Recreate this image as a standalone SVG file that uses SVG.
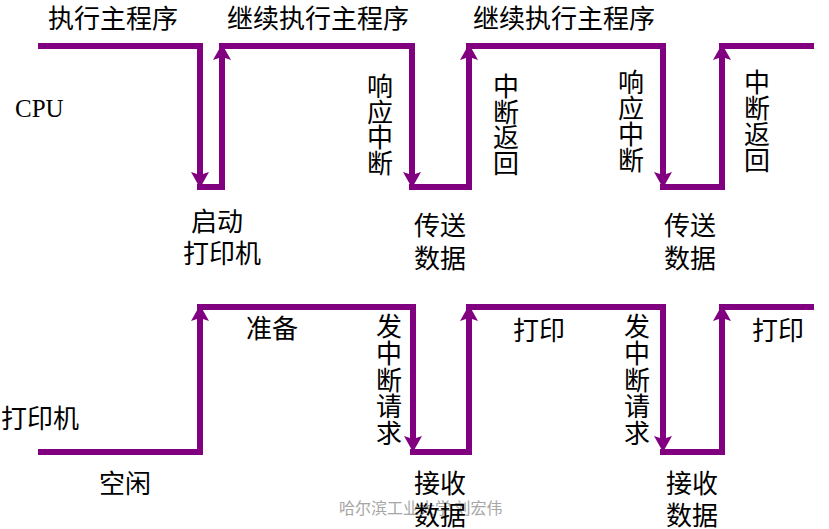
<svg xmlns="http://www.w3.org/2000/svg" width="829" height="529" viewBox="0 0 829 529">
<style>
.w{fill:none;stroke:#800080;stroke-width:6;stroke-linecap:butt}
.a{marker-end:url(#ah)}
.t{font-family:"Noto Sans CJK SC","Liberation Serif",sans-serif;font-size:26px;fill:#000}
.lat{font-family:"Liberation Serif",serif;font-size:25px;fill:#000}
.wm{font-family:"Noto Sans CJK SC",sans-serif;font-size:16px;fill:#a6a6a6}
</style>
<defs>
<marker id="ah" markerUnits="userSpaceOnUse" viewBox="0 0 16 18" refX="4" refY="9" markerWidth="16" markerHeight="18" orient="auto">
<path d="M0,0 L16,9 L0,18 L3,9 Z" fill="#800080"/>
</marker>
</defs>
<rect width="829" height="529" fill="#fff"/>
<text class="wm" x="339" y="514">哈尔滨工业大学 刘宏伟</text>
<g id="connectors">
<path class="w" d="M38,46 H203"/>
<path class="w a" d="M200,43 V176"/>
<path class="w" d="M197,187 H225"/>
<path class="w a" d="M222,190 V56"/>
<path class="w" d="M219,46 H415"/>
<path class="w a" d="M412,43 V176"/>
<path class="w" d="M409,187 H472"/>
<path class="w a" d="M469,190 V56"/>
<path class="w" d="M466,46 H666"/>
<path class="w a" d="M663,43 V176"/>
<path class="w" d="M660,187 H725"/>
<path class="w a" d="M722,190 V56"/>
<path class="w" d="M719,46 H814"/>
<path class="w" d="M38,452 H203"/>
<path class="w a" d="M200,455 V317"/>
<path class="w" d="M197,307 H416"/>
<path class="w a" d="M413,304 V440"/>
<path class="w" d="M410,452 H472"/>
<path class="w a" d="M469,455 V317"/>
<path class="w" d="M466,307 H666"/>
<path class="w a" d="M663,304 V440"/>
<path class="w" d="M660,452 H725"/>
<path class="w a" d="M722,455 V317"/>
<path class="w" d="M719,307 H814"/>
</g>
<g id="cpu-label"><text class="lat" x="15" y="117">CPU</text></g>
<g id="printer-label"><text class="t" x="1" y="428">打印机</text></g>
<g id="exec-main"><text class="t" x="48" y="28">执行主程序</text></g>
<g id="continue1"><text class="t" x="227" y="28">继续执行主程序</text></g>
<g id="continue2"><text class="t" x="473" y="28">继续执行主程序</text></g>
<g id="resp1"><text class="t" x="367" y="96"><tspan x="367">响</tspan><tspan x="367" dy="25.7">应</tspan><tspan x="367" dy="25.7">中</tspan><tspan x="367" dy="25.7">断</tspan></text></g>
<g id="ret1"><text class="t" x="493" y="96"><tspan x="493">中</tspan><tspan x="493" dy="25.7">断</tspan><tspan x="493" dy="25.7">返</tspan><tspan x="493" dy="25.7">回</tspan></text></g>
<g id="resp2"><text class="t" x="618" y="92"><tspan x="618">响</tspan><tspan x="618" dy="26">应</tspan><tspan x="618" dy="26">中</tspan><tspan x="618" dy="26">断</tspan></text></g>
<g id="ret2"><text class="t" x="744" y="92"><tspan x="744">中</tspan><tspan x="744" dy="26">断</tspan><tspan x="744" dy="26">返</tspan><tspan x="744" dy="26">回</tspan></text></g>
<g id="start-printer"><text class="t" x="191" y="231">启动</text><text class="t" x="183" y="263">打印机</text></g>
<g id="send1"><text class="t" x="414" y="235">传送</text><text class="t" x="414" y="268">数据</text></g>
<g id="send2"><text class="t" x="664" y="235">传送</text><text class="t" x="664" y="268">数据</text></g>
<g id="prepare"><text class="t" x="246" y="338">准备</text></g>
<g id="req1"><text class="t" x="376" y="336"><tspan x="376">发</tspan><tspan x="376" dy="26.75">中</tspan><tspan x="376" dy="26.75">断</tspan><tspan x="376" dy="26.75">请</tspan><tspan x="376" dy="26.75">求</tspan></text></g>
<g id="req2"><text class="t" x="624" y="336"><tspan x="624">发</tspan><tspan x="624" dy="26.75">中</tspan><tspan x="624" dy="26.75">断</tspan><tspan x="624" dy="26.75">请</tspan><tspan x="624" dy="26.75">求</tspan></text></g>
<g id="print1"><text class="t" x="513" y="340">打印</text></g>
<g id="print2"><text class="t" x="752" y="340">打印</text></g>
<g id="idle"><text class="t" x="99" y="493">空闲</text></g>
<g id="recv1"><text class="t" x="414" y="493">接收</text><text class="t" x="414" y="525">数据</text></g>
<g id="recv2"><text class="t" x="666" y="493">接收</text><text class="t" x="666" y="525">数据</text></g>
</svg>
